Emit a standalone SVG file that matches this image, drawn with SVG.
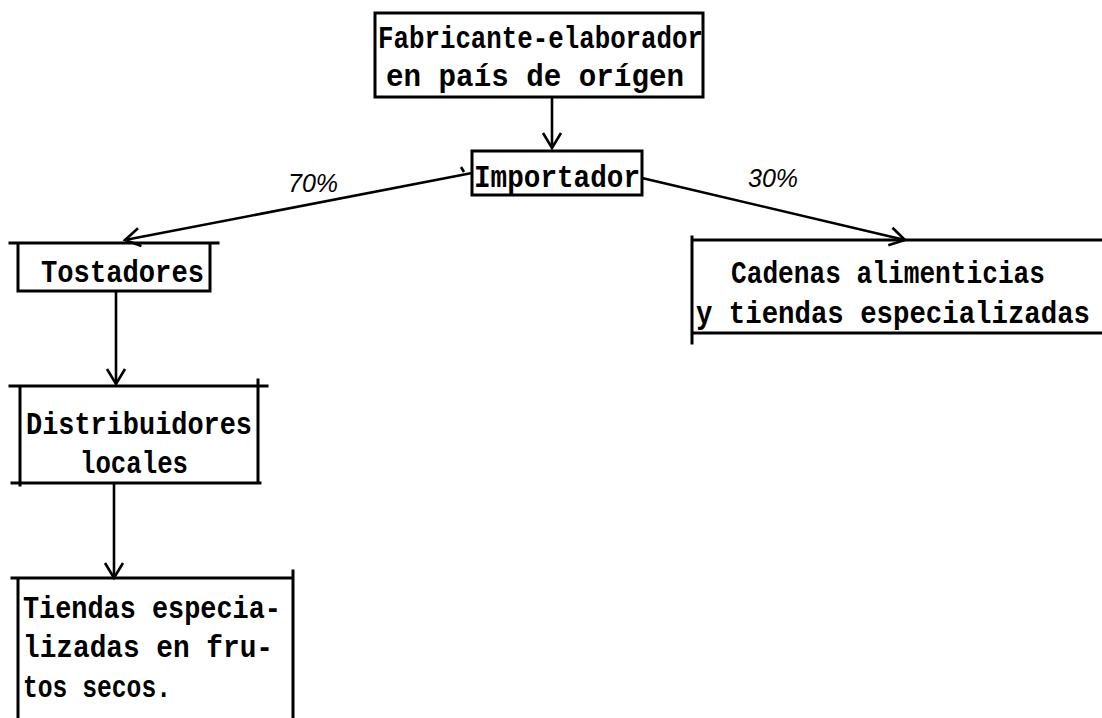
<svg xmlns="http://www.w3.org/2000/svg" width="1102" height="718" viewBox="0 0 1102 718">
  <defs>
    <marker id="vhead" markerUnits="userSpaceOnUse" markerWidth="24" markerHeight="24" viewBox="-18 -12 22 24" refX="0" refY="0" orient="auto">
      <path d="M-15,-9 L0,0 L-15,9" fill="none" stroke="#000" stroke-width="2.6" stroke-linejoin="miter"/>
    </marker>
    <style>
      .box { fill: none; stroke: #000; stroke-width: 3; stroke-linecap: square; }
      .edge { fill: none; stroke: #000; stroke-width: 2.6; }
      .t { font-family: "Liberation Mono", "Courier New", monospace; font-weight: bold; font-size: 31px; fill: #000; }
      .pct { font-family: "Liberation Sans", Arial, sans-serif; font-style: italic; font-size: 25px; fill: #000; }
    </style>
  </defs>
  <rect width="1102" height="718" fill="#fff"/>

  <!-- connectors -->
  <g id="connectors">
    <line class="edge" x1="552" y1="97" x2="552" y2="148" marker-end="url(#vhead)"/>
    <line class="edge" x1="472" y1="173" x2="125" y2="240" marker-end="url(#vhead)"/>
    <path class="edge" d="M461,167 L464,172"/>
    <line class="edge" x1="642" y1="178" x2="905" y2="240" marker-end="url(#vhead)"/>
    <line class="edge" x1="116" y1="291" x2="116" y2="384" marker-end="url(#vhead)"/>
    <line class="edge" x1="114" y1="483" x2="114" y2="578" marker-end="url(#vhead)"/>
    <text class="pct" x="288" y="192">70%</text>
    <text class="pct" x="748" y="187">30%</text>
  </g>

  <!-- producer -->
  <g id="fabricante">
    <rect class="box" x="375" y="13" width="328" height="84"/>
    <text class="t" x="378" y="48" textLength="325" lengthAdjust="spacingAndGlyphs">Fabricante-elaborador</text>
    <text class="t" x="386" y="86" textLength="298" lengthAdjust="spacingAndGlyphs">en país de orígen</text>
  </g>

  <g id="importador">
    <rect class="box" x="472" y="151" width="170" height="44"/>
    <text class="t" x="474" y="187" textLength="166" lengthAdjust="spacingAndGlyphs">Importador</text>
  </g>

  <g id="tostadores">
    <path class="box" d="M10,243 H218 M18,243 V291 H210 V243"/>
    <text class="t" x="41" y="282" textLength="163" lengthAdjust="spacingAndGlyphs">Tostadores</text>
  </g>

  <g id="distribuidores">
    <path class="box" d="M10,386 H267 M20,386 V485 M258,380 V483 M12,483 H260"/>
    <text class="t" x="26" y="434" textLength="226" lengthAdjust="spacingAndGlyphs">Distribuidores</text>
    <text class="t" x="80" y="473" textLength="108" lengthAdjust="spacingAndGlyphs">locales</text>
  </g>

  <g id="tiendas">
    <path class="box" d="M12,578 H292 M18,578 V718 M293,571 V718"/>
    <text class="t" x="23" y="618" textLength="258" lengthAdjust="spacingAndGlyphs">Tiendas especia-</text>
    <text class="t" x="23" y="657" textLength="250" lengthAdjust="spacingAndGlyphs">lizadas en  fru-</text>
    <text class="t" x="23" y="697" textLength="148" lengthAdjust="spacingAndGlyphs">tos secos.</text>
  </g>

  <g id="cadenas">
    <path class="box" d="M692,240 H1102 M692,237 V343 M692,333 H1102"/>
    <text class="t" x="731" y="283" textLength="314" lengthAdjust="spacingAndGlyphs">Cadenas alimenticias</text>
    <text class="t" x="696" y="323" textLength="394" lengthAdjust="spacingAndGlyphs">y tiendas  especializadas</text>
  </g>
</svg>
